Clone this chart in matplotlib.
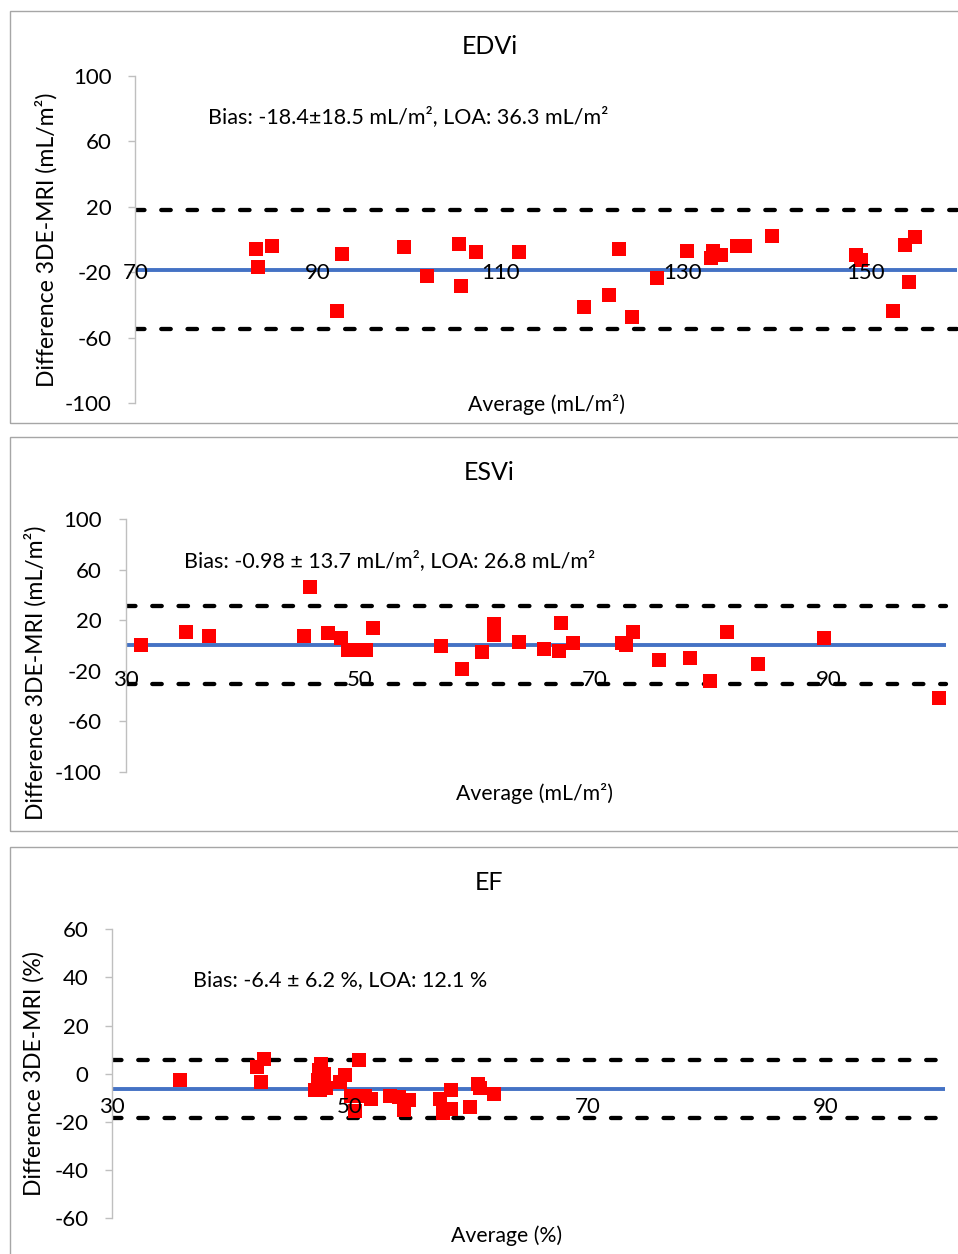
import matplotlib
matplotlib.use("Agg")
import matplotlib.pyplot as plt
from matplotlib.patches import Rectangle

plt.rcParams['font.family'] = ['Lato', 'DejaVu Sans']

W, H = 958, 1254

# ---------------- data ----------------
edvi_avg = [83.2, 85.0, 83.5, 92.6, 92.1, 99.5, 102.0, 105.5, 105.7, 107.3, 112.0,
            123.0, 119.2, 121.9, 124.4, 127.2, 130.5, 133.3, 133.1, 134.2, 135.9,
            136.8, 139.8, 149.0, 149.5, 154.3, 155.5, 154.8, 153.0]
edvi_diff = [-6.0, -4.2, -17.0, -8.9, -43.9, -4.8, -22.5, -3.0, -28.6, -7.8, -7.8,
             -6.0, -41.4, -34.1, -47.5, -23.7, -7.2, -7.1, -11.5, -9.7, -4.2,
             -4.2, 1.9, -9.7, -12.5, -3.6, 1.3, -26.2, -43.9]
edvi_lines = [-18.9, 18.0, -54.9]          # bias, upper LOA, lower LOA
edvi_xticks = [70, 90, 110, 130, 150]
edvi_yticks = [-100, -60, -20, 20, 60, 100]

esvi_avg = [31.3, 35.2, 37.1, 45.2, 45.7, 47.3, 48.4, 49.0, 49.7, 50.5, 51.1,
            56.9, 58.7, 60.4, 61.4, 61.4, 63.6, 65.7, 67.0, 67.2, 68.2, 72.4,
            72.7, 73.3, 75.5, 78.2, 79.9, 81.3, 84.0, 89.6, 99.4]
esvi_diff = [0.8, 10.5, 7.9, 7.9, 46.1, 10.3, 6.3, -3.7, -3.1, -3.1, 14.2,
             0.0, -18.7, -5.3, 16.8, 8.2, 3.2, -2.4, -3.9, 18.2, 2.4, 2.4,
             0.8, 10.5, -11.0, -9.5, -27.6, 10.5, -14.2, 6.3, -41.8]
esvi_lines = [0.5, 31.3, -30.0]
esvi_xticks = [30, 50, 70, 90]
esvi_yticks = [-100, -60, -20, 20, 60, 100]

ef_avg = [35.7, 42.2, 42.8, 42.5, 47.8, 48.0, 47.6, 47.4, 47.3, 47.1, 47.5,
          50.8, 49.6, 49.2, 50.1, 50.4, 51.3, 51.8, 53.4, 54.1, 55.0, 54.5,
          57.6, 58.5, 57.8, 58.5, 60.1, 60.8, 60.9, 62.1]
ef_diff = [-2.6, 2.8, 6.1, -3.5, 0.0, -6.0, 4.2, 1.7, -2.5, -6.7, -6.7,
           5.8, -0.4, -3.2, -9.4, -15.3, -9.1, -10.5, -9.1, -9.7, -10.8, -15.0,
           -10.5, -6.7, -16.1, -14.6, -13.8, -4.2, -6.0, -8.3]
ef_lines = [-6.2, 5.8, -18.3]
ef_xticks = [30, 50, 70, 90]
ef_yticks = [-60, -40, -20, 0, 20, 40, 60]

titles = ["EDVi", "ESVi", "EF"]
notes = ["Bias: -18.4±18.5 mL/m², LOA: 36.3 mL/m²",
         "Bias: -0.98 ± 13.7 mL/m², LOA: 26.8 mL/m²",
         "Bias: -6.4 ± 6.2 %, LOA: 12.1 %"]
ylabels = ["Difference 3DE-MRI (mL/m²)", "Difference 3DE-MRI (mL/m²)",
           "Difference 3DE-MRI (%)"]
xlabels = ["Average (mL/m²)", "Average (mL/m²)", "Average (%)"]

# ---------------- layout (pixels) ----------------
panels = [
    dict(x=edvi_avg, y=edvi_diff, lines=edvi_lines, xt=edvi_xticks, yt=edvi_yticks,
         ax_left=135.3, xlim=(70, 160.16), line_end=160, ylim=(-100, 100),
         ytop=75.7, ybot=403.2, xcross=-20.6,
         box=(10, 10.7, 423), title_xy=(490, 46), note_xy=(208, 117),
         ylab_xy=(46, 240), xlab_xy=(546, 404)),
    dict(x=esvi_avg, y=esvi_diff, lines=esvi_lines, xt=esvi_xticks, yt=esvi_yticks,
         ax_left=125.5, xlim=(30, 101.03), line_end=100, ylim=(-100, 100),
         ytop=519.3, ybot=772.0, xcross=-27.2,
         box=(10, 436.7, 830.7), title_xy=(489, 472), note_xy=(184.5, 561),
         ylab_xy=(35, 672.5), xlab_xy=(535, 794)),
    dict(x=ef_avg, y=ef_diff, lines=ef_lines, xt=ef_xticks, yt=ef_yticks,
         ax_left=112.0, xlim=(30, 101.1), line_end=100, ylim=(-60, 60),
         ytop=929.3, ybot=1218.3, xcross=-13.7,
         box=(10, 847.3, 1300), title_xy=(489, 882), note_xy=(193, 980),
         ylab_xy=(34, 1074), xlab_xy=(507, 1236)),
]

fig = plt.figure(figsize=(W / 100, H / 100), dpi=100)

def fx(px):
    return px / W

def fy(py):
    return 1 - py / H

grey = '#bfbfbf'
for i, p in enumerate(panels):
    bx, btop, bbot = p['box']
    fig.add_artist(Rectangle((fx(bx), fy(bbot)), fx(W + 20) - fx(bx), fy(btop) - fy(bbot),
                             transform=fig.transFigure, fill=False,
                             edgecolor='#a6a6a6', linewidth=1.0, zorder=0))

    left = fx(p['ax_left'])
    ax = fig.add_axes([left, fy(p['ybot']), 1.0 - left, fy(p['ytop']) - fy(p['ybot'])])
    ax.set_facecolor('none')
    ax.set_xlim(*p['xlim'])
    ax.set_ylim(*p['ylim'])
    for s in ['top', 'right', 'bottom']:
        ax.spines[s].set_visible(False)
    ax.spines['left'].set_color(grey)
    ax.spines['left'].set_linewidth(1.0)
    ax.spines['bottom'].set_position(('data', p['xcross']))

    ax.set_yticks(p['yt'])
    ax.set_yticklabels([str(v) for v in p['yt']])
    ax.tick_params(axis='y', direction='out', length=5, width=1.0, color=grey,
                   pad=12, labelsize=16, labelcolor='black')
    ax.set_xticks(p['xt'])
    ax.set_xticklabels([str(v) for v in p['xt']])
    ax.tick_params(axis='x', length=0, pad=0, labelsize=16, labelcolor='black')
    plt.setp(ax.get_xticklabels(), va='center')
    ax.xaxis.set_zorder(5)

    x0 = p['xlim'][0]
    x1 = p['line_end']
    bias, up, lo = p['lines']
    ax.plot([x0, x1], [bias, bias], color='#4472c4', lw=2.8, solid_capstyle='butt', zorder=2)
    for v in (up, lo):
        ax.plot([x0, x1], [v, v], color='black', lw=3.1, dashes=(2.2, 3.9),
                dash_capstyle='round', zorder=2)
    ax.plot(p['x'], p['y'], linestyle='none', marker='s', ms=9.4, mew=0,
            color='#ff0000', zorder=3, clip_on=False)

    fig.text(fx(p['title_xy'][0]), fy(p['title_xy'][1]), titles[i], ha='center',
             va='center', fontsize=18)
    fig.text(fx(p['note_xy'][0]), fy(p['note_xy'][1]), notes[i], ha='left',
             va='center', fontsize=15.5)
    fig.text(fx(p['ylab_xy'][0]), fy(p['ylab_xy'][1]), ylabels[i], ha='center',
             va='center', rotation=90, fontsize=16.6)
    fig.text(fx(p['xlab_xy'][0]), fy(p['xlab_xy'][1]), xlabels[i], ha='center',
             va='center', fontsize=15.3)

fig.savefig('out.png', dpi=100)
